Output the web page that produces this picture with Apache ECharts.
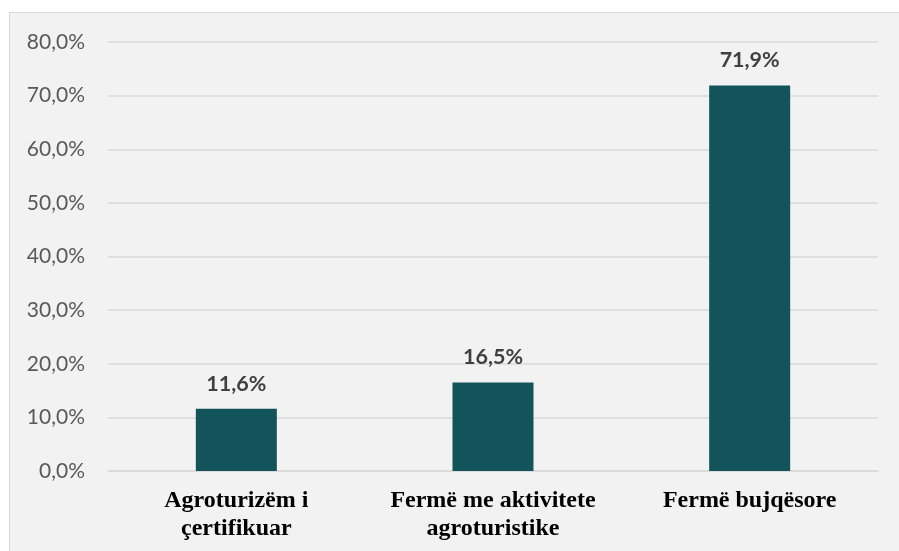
<!DOCTYPE html>
<html><head><meta charset="utf-8">
<script src="https://cdn.jsdelivr.net/npm/echarts@6/dist/echarts.min.js"></script>
<style>
html,body{margin:0;padding:0;background:#fff;width:899px;height:551px;overflow:hidden;}
#bg{position:absolute;left:9px;top:12px;width:900px;height:560px;background:#f2f2f2;border:1px solid #d9d9d9;box-sizing:border-box;}
#chart{position:absolute;left:0;top:0;width:899px;height:551px;}
</style></head>
<body>
<div id="bg"></div>
<div id="chart"></div>
<script>
const categories = ["Agroturizëm i\nçertifikuar", "Fermë me aktivitete\nagroturistike", "Fermë bujqësore"];
const values = [11.6, 16.5, 71.9];
const yTicks = [0, 10, 20, 30, 40, 50, 60, 70, 80];

const fmt = v => v.toFixed(1).replace('.', ',') + '%';
const chart = echarts.init(document.getElementById('chart'), null, {renderer: 'canvas'});
chart.setOption({
  backgroundColor: 'transparent',
  animation: false,
  grid: {left: 108, right: 21, top: 42, bottom: 80},
  xAxis: {
    type: 'category',
    data: categories,
    axisLine: {show: true, lineStyle: {color: '#d9d9d9', width: 1.5}},
    axisTick: {show: false},
    axisLabel: {
      margin: 16, color: '#000', fontFamily: 'Liberation Serif', fontWeight: 'bold',
      fontSize: 24, lineHeight: 28, interval: 0
    }
  },
  yAxis: {
    type: 'value',
    min: yTicks[0], max: yTicks[yTicks.length - 1], interval: 10,
    axisLine: {show: false}, axisTick: {show: false},
    splitLine: {lineStyle: {color: '#d9d9d9', width: 1.5}},
    axisLabel: {margin: 23, color: '#595959', fontFamily: 'Lato', fontSize: 21, formatter: fmt}
  },
  series: [{
    type: 'bar',
    data: values,
    barWidth: 81,
    itemStyle: {color: '#125459'},
    label: {
      show: true, position: 'top', distance: 14,
      color: '#404040', fontFamily: 'Lato', fontWeight: 'bold', fontSize: 21.5,
      formatter: p => fmt(p.value)
    }
  }]
});
</script>
</body></html>
